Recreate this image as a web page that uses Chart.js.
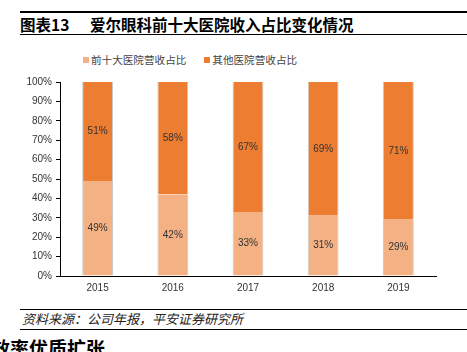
<!DOCTYPE html>
<html>
<head>
<meta charset="utf-8">
<script src="https://cdn.jsdelivr.net/npm/chart.js@4.4.0/dist/chart.umd.min.js"></script>
<style>
  html, body { margin: 0; padding: 0; background: #fff; }
  body { width: 467px; height: 352px; position: relative; overflow: hidden;
         font-family: "Noto Sans CJK SC", "Liberation Sans", sans-serif; }
  .rule { position: absolute; left: 20px; right: 0; background: #000; }
  #title { position: absolute; left: 20px; top: 14px; font-size: 15.5px; font-weight: bold; line-height: 20px; white-space: nowrap; }
  #title .num { display: inline-block; width: 70px; }
  #legend { position: absolute; top: 52px; left: 83px; font-size: 10.6px; color: #444; white-space: nowrap; line-height: 16px; }
  #legend span.box { display: inline-block; width: 6px; height: 6px; margin-right: 2px; vertical-align: 1px; }
  #legend .item { display: inline-block; }
  #wrap { position: absolute; left: 0; top: 70px; width: 467px; height: 232px; }
  #source { position: absolute; left: 22px; top: 310px; font-size: 13px; font-style: italic; line-height: 18px; white-space: nowrap; color: #222; }
  #next { position: absolute; left: -9px; top: 337px; font-size: 19px; font-weight: bold; line-height: 22px; white-space: nowrap; }
</style>
</head>
<body>
<div class="rule" style="top:11px;height:2px"></div>
<div id="title"><span class="num">图表13</span>爱尔眼科前十大医院收入占比变化情况</div>
<div class="rule" style="top:34px;height:1px"></div>
<div id="legend"></div>
<div id="wrap"><canvas id="chart"></canvas></div>
<div class="rule" style="top:309px;height:1px"></div>
<div id="source">资料来源：公司年报，平安证券研究所</div>
<div class="rule" style="top:329px;height:1px"></div>
<div id="next">效率优质扩张</div>
<script>
const years = ['2015', '2016', '2017', '2018', '2019']
const top10Share = [49, 42, 33, 31, 29]
const otherShare = [51, 58, 67, 69, 71]
const seriesNames = ['前十大医院营收占比', '其他医院营收占比']
const seriesColors = ['#F4B183', '#ED7D31']

// legend in html
const legend = document.getElementById('legend')
seriesNames.forEach((name, i) => {
    const item = document.createElement('span')
    item.className = 'item'
    item.style.marginRight = i === 0 ? '18px' : '0'
    item.innerHTML = '<span class="box" style="background:' + seriesColors[i] + '"></span>' + name
    legend.appendChild(item)
})

const barLabels = {
    id: 'barLabels',
    afterDatasetsDraw(chart) {
        const ctx = chart.ctx
        ctx.save()
        ctx.font = '10px "Liberation Sans", sans-serif'
        ctx.fillStyle = '#333'
        ctx.textAlign = 'center'
        ctx.textBaseline = 'middle'
        chart.data.datasets.forEach((ds, di) => {
            chart.getDatasetMeta(di).data.forEach((bar, i) => {
                const p = bar.getProps(['x', 'y', 'base'], true)
                ctx.fillText(ds.data[i] + '%', p.x, (p.y + p.base) / 2)
            })
        })
        ctx.restore()
    }
}

new Chart(document.getElementById('chart'), {
    type: 'bar',
    data: {
        labels: years,
        datasets: [
            {
                label: seriesNames[0],
                data: top10Share,
                backgroundColor: seriesColors[0],
                borderColor: '#c9c9c9',
                borderWidth: { left: 1, right: 1, top: 0, bottom: 0 },
                borderSkipped: false,
                barPercentage: 0.82,
                categoryPercentage: 0.5
            },
            {
                label: seriesNames[1],
                data: otherShare,
                backgroundColor: seriesColors[1],
                borderColor: '#c9c9c9',
                borderWidth: { left: 1, right: 1, top: 0, bottom: 0 },
                borderSkipped: false,
                barPercentage: 0.82,
                categoryPercentage: 0.5
            }
        ]
    },
    options: {
        responsive: true,
        maintainAspectRatio: false,
        animation: false,
        layout: { padding: { top: 12, right: 31, bottom: 2, left: 0 } },
        plugins: {
            legend: { display: false },
            tooltip: { enabled: false }
        },
        scales: {
            x: {
                stacked: true,
                grid: { display: false, drawTicks: false },
                border: { color: '#000', width: 1 },
                ticks: { color: '#333', padding: 6, font: { size: 10, family: '"Liberation Sans", sans-serif' } }
            },
            y: {
                stacked: true,
                min: 0,
                max: 100,
                afterFit(axis) { axis.width = 60 },
                grid: { drawOnChartArea: false, drawTicks: true, tickLength: 4, color: '#000' },
                border: { color: '#000', width: 1 },
                ticks: {
                    stepSize: 10,
                    padding: 4,
                    color: '#333',
                    font: { size: 10, family: '"Liberation Sans", sans-serif' },
                    callback: v => v + '%'
                }
            }
        }
    },
    plugins: [barLabels]
})
</script>
</body>
</html>
